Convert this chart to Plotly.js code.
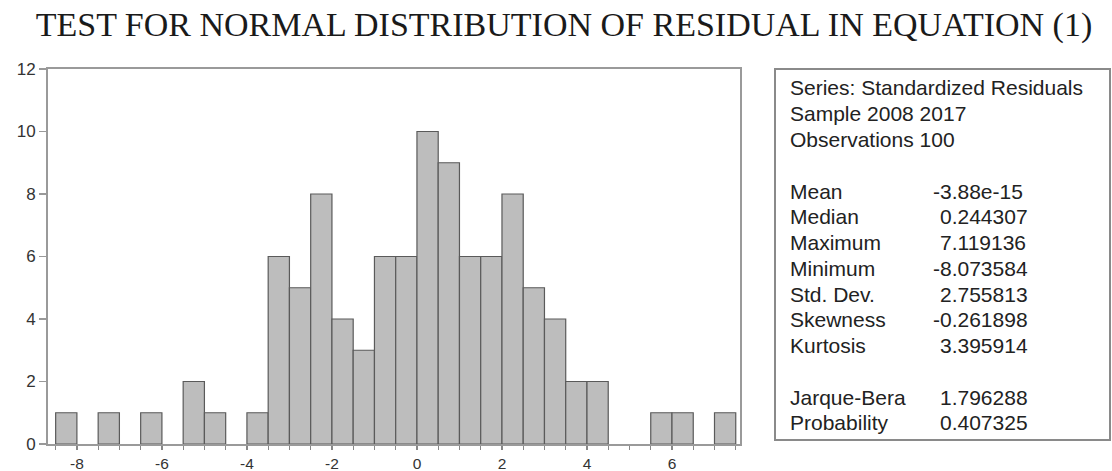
<!DOCTYPE html>
<html>
<head>
<meta charset="utf-8">
<script src="https://cdn.plot.ly/plotly-3.0.1.min.js"></script>
<style>html,body{margin:0;padding:0;background:#fff;}#chart{width:1112px;height:471px;}</style>
</head>
<body>
<div id="chart"></div>
<script>
// Bin centers (bin width 0.5) and counts
const binCenters = [-8.25,-7.75,-7.25,-6.75,-6.25,-5.75,-5.25,-4.75,-4.25,-3.75,-3.25,-2.75,-2.25,-1.75,-1.25,-0.75,-0.25,0.25,0.75,1.25,1.75,2.25,2.75,3.25,3.75,4.25,4.75,5.25,5.75,6.25,6.75,7.25];
const counts     = [1,0,1,0,1,0,2,1,0,1,6,5,8,4,3,6,6,10,9,6,6,8,5,4,2,2,0,0,1,1,0,1];
const binWidth = 0.5;
const xTickVals = [-8,-6,-4,-2,0,2,4,6];
const xTickText = ["-8","-6","-4","-2","0","2","4","6"];
const yTickVals = [0,2,4,6,8,10,12];
const yTickText = ["0","2","4","6","8","10","12"];

const headerLines = ["Series: Standardized Residuals","Sample 2008 2017","Observations 100"];
const statNames  = ["Mean","Median","Maximum","Minimum","Std. Dev.","Skewness","Kurtosis"];
const statValues = ["-3.88e-15","0.244307","7.119136","-8.073584","2.755813","-0.261898","3.395914"];
const testNames  = ["Jarque-Bera","Probability"];
const testValues = ["1.796288","0.407325"];

const W = 1112, H = 471;
const mL = 48, mR = 372, mT = 69, mB = 27;
const pw = W - mL - mR, ph = H - mT - mB;
const px = x => (x - mL) / pw;
const py = y => (H - mB - y) / ph;

const trace = {
  type: 'bar',
  x: binCenters,
  y: counts.map(c => c === 0 ? null : c),
  width: binWidth,
  marker: {color: '#bdbdbd', line: {color: '#5a5a5a', width: 1.2}},
  hoverinfo: 'x+y'
};

const annFont = {family: 'Liberation Sans, Arial, sans-serif', size: 21, color: '#222'};
const annotations = [];
const rowY = r => 88 + r * 25.75;
function addLine(row, label, value) {
  annotations.push({xref:'paper', yref:'paper', x: px(788), y: py(rowY(row)), xanchor:'left', yanchor:'middle',
    text: label, showarrow:false, font: annFont});
  if (value !== undefined) {
    const neg = value.charAt(0) === '-';
    annotations.push({xref:'paper', yref:'paper', x: px(neg ? 931 : 938), y: py(rowY(row)), xanchor:'left', yanchor:'middle',
      text: value, showarrow:false, font: annFont});
  }
}
headerLines.forEach((t,i) => addLine(i, t));
statNames.forEach((t,i) => addLine(4 + i, t, statValues[i]));
testNames.forEach((t,i) => addLine(12 + i, t, testValues[i]));

const yTickFont = {family: 'Liberation Sans, Arial, sans-serif', size: 17, color: '#333'};
const xTickFont = {family: 'Liberation Sans, Arial, sans-serif', size: 15.5, color: '#333'};

const layout = {
  width: W, height: H,
  margin: {l: mL, r: mR, t: mT, b: mB, pad: 0},
  paper_bgcolor: '#fff', plot_bgcolor: '#fff',
  showlegend: false,
  bargap: 0,
  title: {text: 'TEST FOR NORMAL DISTRIBUTION OF RESIDUAL IN EQUATION (1)',
    font: {family: 'Liberation Serif, Times New Roman, serif', size: 34, color: '#1a1a1a'},
    xref: 'container', yref: 'container', x: 564 / W, y: 1 - 24 / H, xanchor: 'center', yanchor: 'middle'},
  xaxis: {
    range: [-8.68, 7.6], showgrid: false, zeroline: false,
    showline: true, mirror: true, linecolor: '#9a9a9a', linewidth: 2,
    tickmode: 'array', tickvals: xTickVals, ticktext: xTickText, ticks: 'outside', ticklen: 4, tickwidth: 1.2, tickcolor: '#888',
    tickfont: xTickFont,
    minor: {dtick: 0.5, tick0: 0, ticks: 'outside', ticklen: 4, tickwidth: 1.2, tickcolor: '#888', showgrid: false}
  },
  yaxis: {
    range: [0, 12], showgrid: false, zeroline: false,
    showline: true, mirror: true, linecolor: '#9a9a9a', linewidth: 2,
    tickmode: 'array', tickvals: yTickVals, ticktext: yTickText, ticks: 'outside', ticklen: 7, tickwidth: 1.2, tickcolor: '#999',
    tickfont: yTickFont
  },
  shapes: [{type: 'rect', xref: 'paper', yref: 'paper', x0: px(775), x1: px(1110), y0: py(440), y1: py(69),
    line: {color: '#8a8a8a', width: 2}, fillcolor: 'rgba(0,0,0,0)'}],
  annotations: annotations
};

Plotly.newPlot('chart', [trace], layout, {displayModeBar: false, staticPlot: true});
</script>
</body>
</html>
